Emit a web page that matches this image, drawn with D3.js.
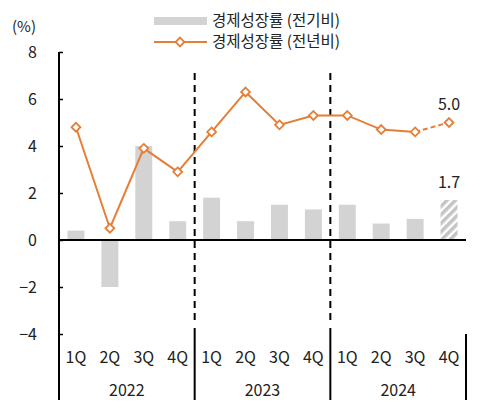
<!DOCTYPE html>
<html>
<head>
<meta charset="utf-8">
<script src="https://cdn.jsdelivr.net/npm/d3@7"></script>
<style>
  body { margin: 0; background: #fff; }
  svg text { font-family: "Noto Sans CJK KR", "Noto Sans", sans-serif; fill: #222; }
</style>
</head>
<body>
<div class="chart"></div>
<script>

const FRAME_WIDTH = 487;
const FRAME_HEIGHT = 411;
const MARGINS = {left: 59, right: 21, top: 52, bottom: 77};

// data
const QUARTERS = ["1Q", "2Q", "3Q", "4Q", "1Q", "2Q", "3Q", "4Q", "1Q", "2Q", "3Q", "4Q"];
const YEARS = ["2022", "2023", "2024"];
const QOQ = [0.4, -2.0, 4.0, 0.8, 1.8, 0.8, 1.5, 1.3, 1.5, 0.7, 0.9, 1.7];
const YOY = [4.8, 0.5, 3.9, 2.9, 4.6, 6.3, 4.9, 5.3, 5.3, 4.7, 4.6, 5.0];
const Y_TICKS = [-4, -2, 0, 2, 4, 6, 8];
const LEGEND = ["경제성장률 (전기비)", "경제성장률 (전년비)"];

const ORANGE = "#E57E36";
const GRAY = "#D3D3D3";

const FRAME = d3.select(".chart")
                .append("svg")
                .attr("width", FRAME_WIDTH)
                .attr("height", FRAME_HEIGHT);

const PLOT_LEFT = MARGINS.left;
const PLOT_RIGHT = FRAME_WIDTH - MARGINS.right;

const X_SCALE = d3.scaleBand()
                  .domain(d3.range(QUARTERS.length))
                  .range([PLOT_LEFT, PLOT_RIGHT]);

const Y_SCALE = d3.scaleLinear()
                  .domain([-4, 8])
                  .range([334, 52]);

const BAR_W = X_SCALE.bandwidth() * 0.5;
const cx = (i) => X_SCALE(i) + X_SCALE.bandwidth() / 2;

// hatch pattern for the last (estimated) bar
const DEFS = FRAME.append("defs");
const PAT = DEFS.append("pattern")
                .attr("id", "hatch")
                .attr("patternUnits", "userSpaceOnUse")
                .attr("width", 6)
                .attr("height", 6)
                .attr("patternTransform", "rotate(-45)");
PAT.append("rect").attr("width", 6).attr("height", 6).attr("fill", "#fff");
PAT.append("rect").attr("width", 6).attr("height", 3.5).attr("fill", "#C4C4C4");

// bars
FRAME.selectAll(".bar")
     .data(QOQ)
     .enter()
     .append("rect")
        .attr("class", "bar")
        .attr("x", (d, i) => cx(i) - BAR_W / 2)
        .attr("y", (d) => Y_SCALE(Math.max(0, d)))
        .attr("width", BAR_W)
        .attr("height", (d) => Math.abs(Y_SCALE(d) - Y_SCALE(0)))
        .attr("fill", (d, i) => i === QOQ.length - 1 ? "url(#hatch)" : GRAY);

// y axis
const Y_AXIS = FRAME.append("g")
    .attr("transform", "translate(" + PLOT_LEFT + ",0)")
    .call(d3.axisRight(Y_SCALE).tickValues(Y_TICKS).tickSize(4).tickFormat((d) => d < 0 ? "−" + Math.abs(d) : d));
Y_AXIS.select(".domain").remove();
Y_AXIS.selectAll("line").attr("stroke", "#000").attr("stroke-width", 1.5);
Y_AXIS.selectAll("text")
      .attr("x", -22)
      .attr("text-anchor", "end")
      .attr("font-size", "16px")
      .attr("fill", "#222")
      .style("font-family", "'Noto Sans CJK KR', sans-serif");

FRAME.append("line")
     .attr("x1", PLOT_LEFT).attr("x2", PLOT_LEFT)
     .attr("y1", Y_SCALE(8)).attr("y2", 400)
     .attr("stroke", "#000").attr("stroke-width", 2);

FRAME.append("text")
     .attr("x", 24).attr("y", 32)
     .attr("text-anchor", "middle")
     .attr("font-size", "15px")
     .text("(%)");

// zero line
FRAME.append("line")
     .attr("x1", PLOT_LEFT).attr("x2", PLOT_RIGHT)
     .attr("y1", Y_SCALE(0)).attr("y2", Y_SCALE(0))
     .attr("stroke", "#000").attr("stroke-width", 2);

// year separators
const SEPS = [4, 8];
SEPS.forEach((s) => {
    const x = X_SCALE(s);
    FRAME.append("line")
         .attr("x1", x).attr("x2", x)
         .attr("y1", 73).attr("y2", 322)
         .attr("stroke", "#000").attr("stroke-width", 2)
         .attr("stroke-dasharray", "7,5");
    FRAME.append("line")
         .attr("x1", x).attr("x2", x)
         .attr("y1", 328).attr("y2", 400)
         .attr("stroke", "#000").attr("stroke-width", 2);
});
FRAME.append("line")
     .attr("x1", PLOT_RIGHT).attr("x2", PLOT_RIGHT)
     .attr("y1", 334).attr("y2", 400)
     .attr("stroke", "#000").attr("stroke-width", 2);

// category labels
FRAME.selectAll(".qlabel")
     .data(QUARTERS)
     .enter()
     .append("text")
        .attr("class", "qlabel")
        .attr("x", (d, i) => cx(i))
        .attr("y", 363)
        .attr("text-anchor", "middle")
        .attr("font-size", "16px")
        .text((d) => d);

FRAME.selectAll(".ylabel")
     .data(YEARS)
     .enter()
     .append("text")
        .attr("class", "ylabel")
        .attr("x", (d, i) => (X_SCALE(i * 4) + X_SCALE(i * 4 + 3) + X_SCALE.bandwidth()) / 2)
        .attr("y", 396)
        .attr("text-anchor", "middle")
        .attr("font-size", "16px")
        .text((d) => d);

// line
const LINE = d3.line()
               .x((d, i) => cx(i))
               .y((d) => Y_SCALE(d));

const N = YOY.length;
FRAME.append("path")
     .datum(YOY.slice(0, N - 1))
     .attr("d", LINE)
     .attr("fill", "none")
     .attr("stroke", ORANGE)
     .attr("stroke-width", 2);

FRAME.append("path")
     .datum(YOY.slice(N - 2))
     .attr("d", d3.line().x((d, i) => cx(N - 2 + i)).y((d) => Y_SCALE(d)))
     .attr("fill", "none")
     .attr("stroke", ORANGE)
     .attr("stroke-width", 2)
     .attr("stroke-dasharray", "5,3");

const diamond = d3.symbol().type(d3.symbolDiamond2).size(50);
FRAME.selectAll(".pt")
     .data(YOY)
     .enter()
     .append("path")
        .attr("class", "pt")
        .attr("d", diamond)
        .attr("transform", (d, i) => "translate(" + cx(i) + "," + Y_SCALE(d) + ")")
        .attr("fill", "#fff")
        .attr("stroke", ORANGE)
        .attr("stroke-width", 1.8);

// value labels for last quarter
FRAME.append("text")
     .attr("x", cx(N - 1)).attr("y", Y_SCALE(YOY[N - 1]) - 13)
     .attr("text-anchor", "middle")
     .attr("font-size", "16px")
     .text(YOY[N - 1].toFixed(1));
FRAME.append("text")
     .attr("x", cx(N - 1)).attr("y", Y_SCALE(QOQ[N - 1]) - 12)
     .attr("text-anchor", "middle")
     .attr("font-size", "16px")
     .text(QOQ[N - 1].toFixed(1));

// legend
const LEG = FRAME.append("g");
LEG.append("rect")
   .attr("x", 154).attr("y", 17)
   .attr("width", 53).attr("height", 8)
   .attr("fill", GRAY);
LEG.append("text")
   .attr("x", 212).attr("y", 26)
   .attr("font-size", "15.5px")
   .text(LEGEND[0]);
LEG.append("line")
   .attr("x1", 154).attr("x2", 207)
   .attr("y1", 42).attr("y2", 42)
   .attr("stroke", ORANGE).attr("stroke-width", 2);
LEG.append("path")
   .attr("d", diamond)
   .attr("transform", "translate(180,42)")
   .attr("fill", "#fff")
   .attr("stroke", ORANGE)
   .attr("stroke-width", 1.8);
LEG.append("text")
   .attr("x", 212).attr("y", 47)
   .attr("font-size", "15.5px")
   .text(LEGEND[1]);

</script>
</body>
</html>
